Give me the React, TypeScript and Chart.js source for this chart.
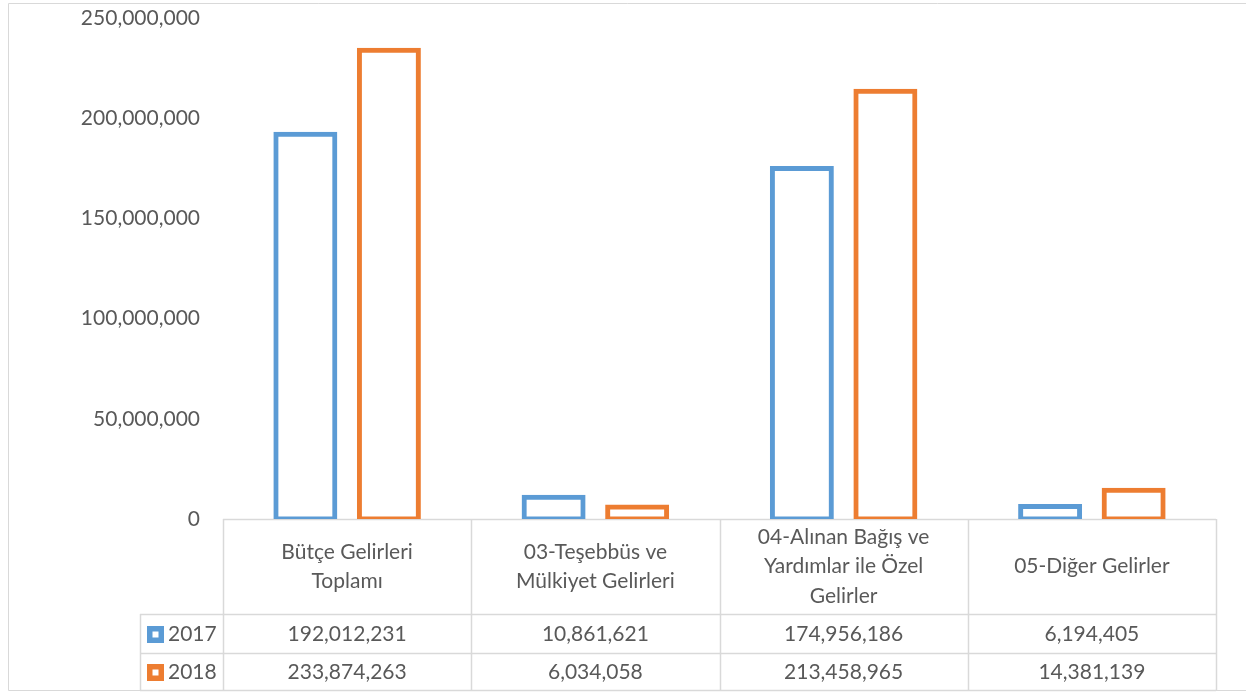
import React, { useEffect, useRef } from "react";
import { Chart, registerables } from "chart.js";

Chart.register(...registerables);

const categories: string[][] = [
  ["Bütçe Gelirleri", "Toplamı"],
  ["03-Teşebbüs ve", "Mülkiyet Gelirleri"],
  ["04-Alınan Bağış ve", "Yardımlar ile Özel", "Gelirler"],
  ["05-Diğer Gelirler"],
];
const seriesNames = ["2017", "2018"];
const values2017 = [192012231, 10861621, 174956186, 6194405];
const values2018 = [233874263, 6034058, 213458965, 14381139];
const seriesColors = ["#5B9BD5", "#ED7D31"];
const yMin = 0;
const yMax = 250000000;
const yStep = 50000000;

const FONT = "Lato, 'Open Sans', sans-serif";
const TEXT = "#595959";
const LINE = "#D9D9D9";

const fmt = (v: number) => v.toLocaleString("en-US");

const tablePlugin = {
  id: "dataTable",
  beforeDatasetsDraw(chart: any) {
    const { ctx, chartArea, scales } = chart;
    const xs = scales.x;
    const n = categories.length;
    const colW = (chartArea.right - chartArea.left) / n;
    const top = chartArea.bottom;
    const headerBottom = 614;
    const row1Bottom = 653;
    const row2Bottom = 690;
    const legendLeft = 140;

    ctx.save();
    // outer chart border
    ctx.strokeStyle = LINE;
    ctx.lineWidth = 1;
    ctx.beginPath();
    ctx.moveTo(1300, 3.5);
    ctx.lineTo(8.5, 3.5);
    ctx.lineTo(8.5, 690.5);
    ctx.lineTo(1300, 690.5);
    ctx.stroke();

    // table lines
    ctx.lineWidth = 1.5;
    ctx.beginPath();
    ctx.moveTo(chartArea.left, top + 0.5);
    ctx.lineTo(chartArea.right, top + 0.5);
    for (const y of [headerBottom, row1Bottom, row2Bottom]) {
      ctx.moveTo(legendLeft, y + 0.5);
      ctx.lineTo(chartArea.right, y + 0.5);
    }
    for (let i = 0; i <= n; i++) {
      const x = Math.round(chartArea.left + i * colW) + 0.5;
      ctx.moveTo(x, top);
      ctx.lineTo(x, row2Bottom);
    }
    ctx.moveTo(legendLeft + 0.5, headerBottom);
    ctx.lineTo(legendLeft + 0.5, row2Bottom);
    ctx.stroke();

    // header text
    ctx.fillStyle = TEXT;
    ctx.font = `21px ${FONT}`;
    ctx.textAlign = "center";
    ctx.textBaseline = "middle";
    const headerCenter = (top + headerBottom) / 2;
    const lh = 29.5;
    categories.forEach((lines, i) => {
      const cx = xs.getPixelForValue(i);
      const start = headerCenter - ((lines.length - 1) * lh) / 2;
      lines.forEach((ln, j) => ctx.fillText(ln, cx, start + j * lh));
    });

    // data rows
    const rows = [values2017, values2018];
    const bounds = [
      [headerBottom, row1Bottom],
      [row1Bottom, row2Bottom],
    ];
    rows.forEach((vals, r) => {
      const cy = (bounds[r][0] + bounds[r][1]) / 2 + 1;
      ctx.textAlign = "center";
      ctx.fillStyle = TEXT;
      vals.forEach((v, i) => ctx.fillText(fmt(v), xs.getPixelForValue(i), cy));
      // legend key
      const ks = 17;
      const kx = 147;
      const ky = Math.round(cy - ks / 2);
      ctx.fillStyle = seriesColors[r];
      ctx.fillRect(kx, ky, ks, ks);
      ctx.fillStyle = "#FFFFFF";
      ctx.fillRect(kx + 5.5, ky + 5.5, ks - 11, ks - 11);
      ctx.fillStyle = TEXT;
      ctx.textAlign = "left";
      ctx.fillText(seriesNames[r], 168, cy);
    });
    ctx.restore();
  },
};

export default function App() {
  const ref = useRef<HTMLCanvasElement | null>(null);
  useEffect(() => {
    if (!ref.current) return;
    const chart = new Chart(ref.current, {
      type: "bar",
      data: {
        labels: categories,
        datasets: [values2017, values2018].map((vals, i) => ({
          label: seriesNames[i],
          data: vals,
          backgroundColor: "#FFFFFF",
          borderColor: seriesColors[i],
          borderWidth: 5,
          borderSkipped: false,
          inflateAmount: 2.5,
          barPercentage: 0.706,
          categoryPercentage: 0.673,
        })),
      },
      options: {
        responsive: false,
        animation: false,
        devicePixelRatio: 1,
        layout: { padding: { top: 18, right: 30, bottom: 173, left: 0 } },
        plugins: { legend: { display: false }, tooltip: { enabled: false } },
        scales: {
          x: { display: false },
          y: {
            min: yMin,
            max: yMax,
            border: { display: false },
            grid: { display: false, drawTicks: false },
            ticks: {
              stepSize: yStep,
              padding: 23,
              color: TEXT,
              font: { family: FONT, size: 21 },
              callback: (v: any) => fmt(Number(v)),
            },
            afterFit: (s: any) => {
              s.width = 223;
              s.paddingTop = 0;
              s.paddingBottom = 0;
            },
          },
        },
      },
      plugins: [tablePlugin],
    } as any);
    return () => chart.destroy();
  }, []);
  return (
    <div style={{ position: "fixed", left: 0, top: 0, width: 1246, height: 692, background: "#fff" }}>
      <canvas ref={ref} width={1246} height={692} style={{ display: "block" }} />
    </div>
  );
}
